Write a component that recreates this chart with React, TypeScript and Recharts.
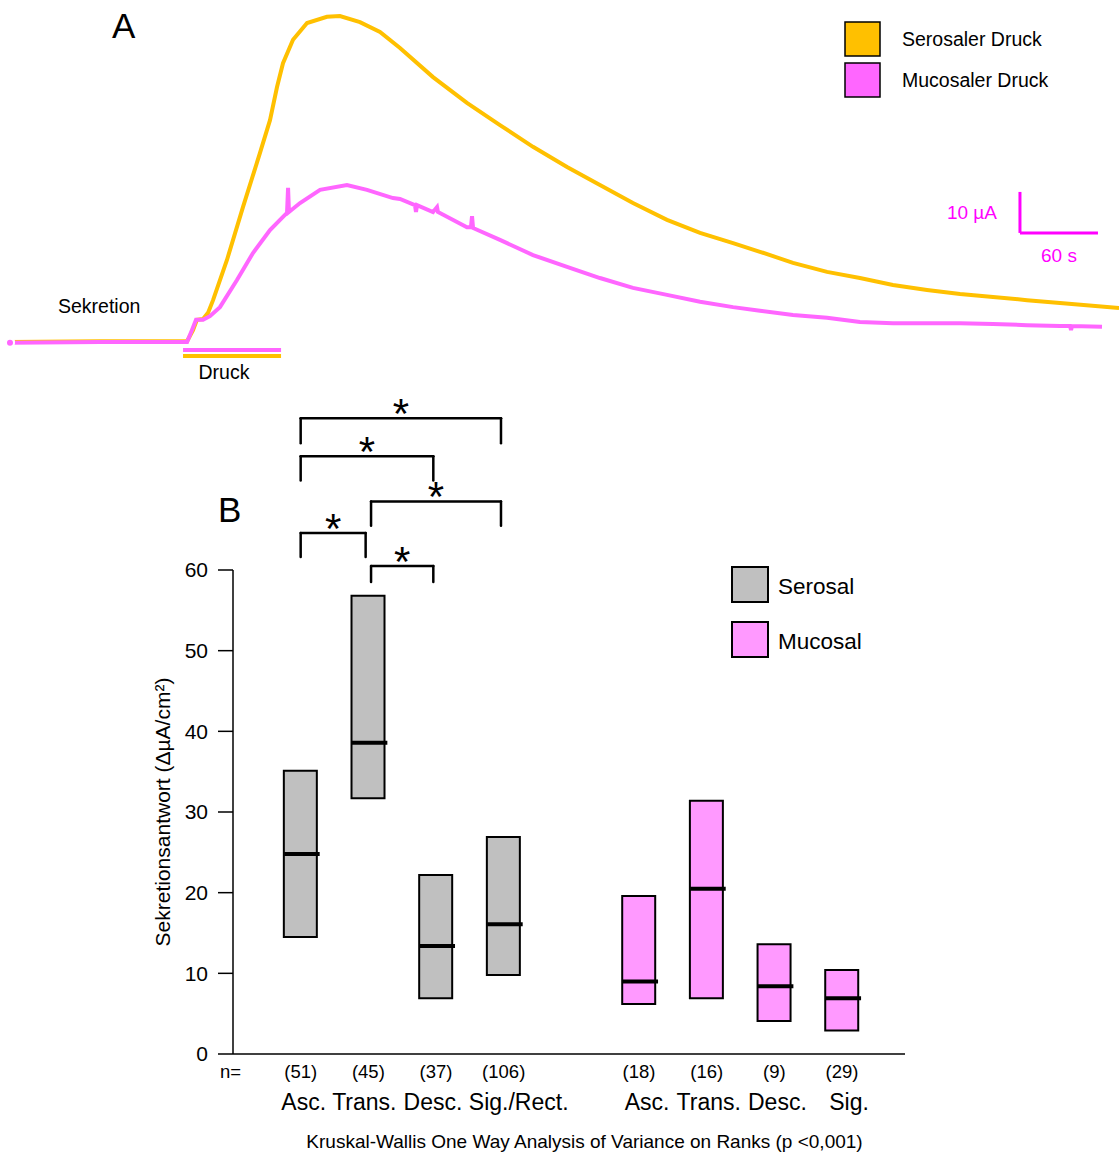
import React from "react";
import {
  LineChart,
  Line,
  XAxis,
  YAxis,
  ReferenceLine,
  ComposedChart,
  Bar,
  Scatter,
  Cell,
} from "recharts";

// Panel A: time in s, current in µA
const serosalTime = [0, 69.2, 136.2, 140.8, 143.8, 148.5, 152.3, 156.2, 166.9, 179.2, 192.3, 200, 205.4, 210, 217.7, 228.5, 243.8, 253.8, 269.2, 284.6, 300, 325.4, 351.5, 376.9, 402.3, 428.5, 453.8, 479.2, 505.4, 530.8, 556.2, 576.9, 602.3, 628.5, 653.8, 679.2, 705.4, 730.8, 756.2, 782.3, 807.7, 853.1];
const serosalCurrent = [0, 0.2, 0.2, 2.9, 5.4, 5.6, 7.1, 10.2, 20, 32.9, 46.1, 54.1, 62.2, 68, 73.7, 77.8, 79.3, 79.5, 78, 75.6, 71.7, 64.6, 58.3, 52.9, 47.6, 42.7, 38.3, 33.9, 29.8, 26.6, 24.1, 22, 19.3, 17.1, 15.6, 13.9, 12.7, 11.7, 11, 10.2, 9.5, 8.3];

const mucosalTime = [0, 69.2, 136.2, 140, 143.1, 148.5, 153.8, 161.5, 174.6, 186.9, 200, 210, 213.1, 213.9, 214.6, 223.1, 238.5, 259.2, 274.6, 294.6, 300, 311.5, 312.3, 313.1, 325.4, 328.5, 329.2, 351.5, 354.6, 355.4, 356.2, 376.9, 402.3, 428.5, 453.8, 479.2, 505.4, 530.8, 556.2, 576.9, 602.3, 628.5, 653.8, 679.2, 705.4, 730.8, 756.2, 782.3, 807.7, 815.4, 816.2, 816.9, 840];
const mucosalCurrent = [-0.2, 0, 0, 2.9, 5.4, 5.4, 6.3, 8.5, 15.1, 21.7, 27.3, 30.5, 31.5, 37.6, 31.7, 33.9, 37.1, 38.3, 37.1, 35.1, 34.9, 33.4, 31.7, 33.4, 31.7, 32.9, 31.7, 28, 28, 30.7, 27.8, 24.9, 21.2, 18.3, 15.6, 13.2, 11.5, 9.8, 8.5, 7.6, 6.6, 5.9, 4.9, 4.6, 4.6, 4.6, 4.4, 4.1, 3.9, 3.9, 2.9, 3.9, 3.7];

const pressureWindow = [133.1, 208.5]; // s
const scaleBarStart = [776.9, 26.6]; // s, µA
const scaleBarTime = 60;
const scaleBarCurrent = 10;

// Panel B
const segmentNames = ["Asc.", "Trans.", "Desc.", "Sig./Rect.", "Asc.", "Trans.", "Desc.", "Sig."];
const sides = ["Serosal", "Serosal", "Serosal", "Serosal", "Mucosal", "Mucosal", "Mucosal", "Mucosal"];
const sampleSizes = [51, 45, 37, 106, 18, 16, 9, 29];
const slots = [1, 2, 3, 4, 6, 7, 8, 9];
const lowerValues = [14.5, 31.7, 6.9, 9.8, 6.2, 6.9, 4.1, 2.9];
const upperValues = [35.1, 56.8, 22.2, 26.9, 19.6, 31.4, 13.6, 10.4];
const medianValues = [24.8, 38.6, 13.4, 16.1, 9.0, 20.5, 8.4, 6.9];
const yTicks = [0, 10, 20, 30, 40, 50, 60];

// significant pairs (index into the serosal groups) and bracket heights
const comparisons = [[0, 3], [0, 2], [1, 3], [0, 1], [1, 2]];
const bracketHeights = [78.8, 74.1, 68.5, 64.6, 60.5];
const bracketDrops = [3.1, 3, 3, 3, 2];

const sideColor: Record<string, string> = { Serosal: "#c0c0c0", Mucosal: "#ff99ff" };

const serosalData = serosalTime.map((t, i) => ({ t, v: serosalCurrent[i] }));
const mucosalData = mucosalTime.map((t, i) => ({ t, v: mucosalCurrent[i] }));

const groupData = slots.map((slot, i) => ({
  slot,
  name: segmentNames[i],
  side: sides[i],
  range: [lowerValues[i], upperValues[i]],
  median: medianValues[i],
}));

const nameShift = [3, -4, -3, 15, 8, 2, 3, 7];

const CategoryTick = (props: any) => {
  const { x, y, payload } = props;
  const i = slots.indexOf(payload.value);
  if (i < 0) return null;
  return (
    <g>
      <text x={x} y={y + 24} textAnchor="middle" fontSize={18.5} fill="#000">
        ({sampleSizes[i]})
      </text>
      <text x={x + nameShift[i]} y={y + 56} textAnchor="middle" fontSize={23} fill="#000">
        {segmentNames[i]}
      </text>
    </g>
  );
};

const MedianMark = (props: any) => {
  const { cx, cy } = props;
  return <line x1={cx - 16.5} x2={cx + 19} y1={cy} y2={cy} stroke="#000" strokeWidth={4} />;
};

const Star = (props: any) => {
  const vb = props.viewBox || { x: 0, y: 0, width: 0 };
  return (
    <text x={vb.x + vb.width / 2} y={vb.y + 10} textAnchor="middle" fontSize={42} fill="#000">
      *
    </text>
  );
};

const ORANGE = "#ffc000";
const PINK = "#ff66ff";
const MAGENTA = "#ff00ff";

export default function App() {
  return (
    <div
      style={{
        position: "relative",
        width: 1119,
        height: 1153,
        background: "#fff",
        fontFamily: '"Liberation Sans", Arial, sans-serif',
      }}
    >
      <style>{"body{margin:0}"}</style>

      <div style={{ position: "absolute", left: 0, top: 0 }}>
        <LineChart width={1119} height={390} margin={{ top: 0, right: 0, bottom: 0, left: 0 }}>
          <XAxis type="number" dataKey="t" domain={[-7.69, 853.08]} hide allowDataOverflow />
          <YAxis type="number" domain={[-11.71, 83.41]} hide allowDataOverflow />
          <Line
            data={serosalData}
            dataKey="v"
            stroke={ORANGE}
            strokeWidth={4}
            dot={false}
            isAnimationActive={false}
          />
          <Line
            data={mucosalData}
            dataKey="v"
            stroke={PINK}
            strokeWidth={4}
            dot={false}
            isAnimationActive={false}
          />
          <ReferenceLine
            segment={[{ x: pressureWindow[0], y: -1.95 }, { x: pressureWindow[1], y: -1.95 }]}
            stroke={PINK}
            strokeWidth={4}
            ifOverflow="visible"
          />
          <ReferenceLine
            segment={[{ x: pressureWindow[0], y: -3.4 }, { x: pressureWindow[1], y: -3.4 }]}
            stroke={ORANGE}
            strokeWidth={4}
            ifOverflow="visible"
          />
          <ReferenceLine
            segment={[
              { x: scaleBarStart[0], y: scaleBarStart[1] + scaleBarCurrent },
              { x: scaleBarStart[0], y: scaleBarStart[1] },
            ]}
            stroke={MAGENTA}
            strokeWidth={3}
            ifOverflow="visible"
          />
          <ReferenceLine
            segment={[
              { x: scaleBarStart[0], y: scaleBarStart[1] },
              { x: scaleBarStart[0] + scaleBarTime, y: scaleBarStart[1] },
            ]}
            stroke={MAGENTA}
            strokeWidth={3}
            ifOverflow="visible"
          />
        </LineChart>
      </div>

      <div style={{ position: "absolute", left: 0, top: 390 }}>
        <ComposedChart
          width={1119}
          height={763}
          data={groupData}
          margin={{ top: 180, right: 214, bottom: 0, left: 0 }}
        >
          <XAxis
            type="number"
            dataKey="slot"
            domain={[0, 9.93]}
            ticks={slots}
            tick={<CategoryTick />}
            tickLine={false}
            tickSize={0}
            tickMargin={0}
            height={99}
            axisLine={{ stroke: "#000", strokeWidth: 1.5 }}
            interval={0}
          />
          <YAxis
            type="number"
            domain={[0, 60]}
            ticks={yTicks}
            width={233}
            tickSize={15}
            tickMargin={10}
            tick={{ fill: "#000", fontSize: 21 }}
            tickLine={{ stroke: "#000", strokeWidth: 1.5 }}
            axisLine={{ stroke: "#000", strokeWidth: 1.5 }}
            interval={0}
          />
          <Bar dataKey="range" barSize={33} stroke="#000" strokeWidth={2} isAnimationActive={false}>
            {groupData.map((d, i) => (
              <Cell key={i} fill={sideColor[d.side]} />
            ))}
          </Bar>
          <Scatter dataKey="median" shape={<MedianMark />} isAnimationActive={false} />
          {comparisons.map(([a, b], k) => {
            const x1 = slots[a] + (a > 0 ? 0.04 : 0);
            const x2 = slots[b] - 0.04;
            const top = bracketHeights[k];
            const bottom = top - bracketDrops[k];
            return (
              <React.Fragment key={k}>
                <ReferenceLine
                  segment={[{ x: x1, y: bottom }, { x: x1, y: top }]}
                  stroke="#000"
                  strokeWidth={2.5}
                  strokeLinecap="round"
                  ifOverflow="visible"
                />
                <ReferenceLine
                  segment={[{ x: x1, y: top }, { x: x2, y: top }]}
                  stroke="#000"
                  strokeWidth={2.5}
                  strokeLinecap="round"
                  ifOverflow="visible"
                  label={<Star />}
                />
                <ReferenceLine
                  segment={[{ x: x2, y: top }, { x: x2, y: bottom }]}
                  stroke="#000"
                  strokeWidth={2.5}
                  strokeLinecap="round"
                  ifOverflow="visible"
                />
              </React.Fragment>
            );
          })}
        </ComposedChart>
      </div>

      <svg
        width={1119}
        height={1153}
        style={{ position: "absolute", left: 0, top: 0, pointerEvents: "none" }}
      >
        <text x={112} y={38} fontSize={35} fill="#000">A</text>
        <rect x={845} y={22} width={35} height={34} fill={ORANGE} stroke="#000" strokeWidth={1.5} />
        <rect x={845} y={63} width={35} height={34} fill={PINK} stroke="#000" strokeWidth={1.5} />
        <text x={902} y={46} fontSize={19.5} fill="#000">Serosaler Druck</text>
        <text x={902} y={87} fontSize={19.5} fill="#000">Mucosaler Druck</text>
        <text x={58} y={313} fontSize={19.5} fill="#000">Sekretion</text>
        <text x={224} y={379} fontSize={19.5} fill="#000" textAnchor="middle">Druck</text>
        <text x={997} y={219} fontSize={19} fill={MAGENTA} textAnchor="end">10 µA</text>
        <text x={1059} y={262} fontSize={19} fill={MAGENTA} textAnchor="middle">60 s</text>

        <text x={218} y={522} fontSize={35} fill="#000">B</text>
        <rect x={732} y={567} width={36} height={35} fill="#c0c0c0" stroke="#000" strokeWidth={2} />
        <rect x={732} y={622} width={36} height={35} fill="#ff99ff" stroke="#000" strokeWidth={2} />
        <text x={778} y={594} fontSize={22.5} fill="#000">Serosal</text>
        <text x={778} y={649} fontSize={22.5} fill="#000">Mucosal</text>
        <text
          x={170}
          y={812}
          fontSize={21}
          fill="#000"
          textAnchor="middle"
          transform="rotate(-90 170 812)"
        >
          Sekretionsantwort (ΔµA/cm²)
        </text>
        <text x={220} y={1078} fontSize={18.5} fill="#000">n=</text>
        <text x={584.5} y={1148} fontSize={19} fill="#000" textAnchor="middle">
          Kruskal-Wallis One Way Analysis of Variance on Ranks (p &lt;0,001)
        </text>
      </svg>
    </div>
  );
}
